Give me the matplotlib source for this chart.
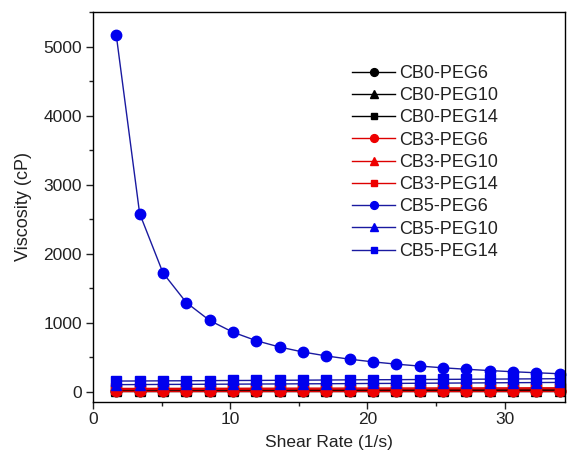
import matplotlib
matplotlib.use("Agg")
import matplotlib.pyplot as plt
from matplotlib.ticker import MultipleLocator

plt.rcParams['font.family'] = ['Liberation Sans', 'DejaVu Sans']

shear_rate = [1.7, 3.4, 5.1, 6.8, 8.5, 10.2, 11.9, 13.6, 15.3, 17.0,
              18.7, 20.4, 22.1, 23.8, 25.5, 27.2, 28.9, 30.6, 32.3, 34.0]

cb0_peg6 = [3, 3, 3, 3, 3, 3, 3, 3, 3, 3, 3, 3, 3, 3, 3, 3, 3, 3, 3, 3]
cb0_peg10 = [10, 10, 10, 10, 11, 11, 11, 11, 12, 12, 12, 12, 12, 13, 13, 13, 13, 13, 14, 14]
cb0_peg14 = [22, 22, 23, 23, 24, 24, 25, 25, 26, 26, 27, 27, 28, 28, 29, 29, 30, 30, 31, 31]
cb3_peg6 = [6, 6, 6, 6, 6, 6, 6, 6, 6, 6, 6, 6, 6, 6, 6, 6, 6, 6, 6, 6]
cb3_peg10 = [30, 30, 31, 31, 32, 32, 33, 33, 34, 34, 35, 35, 36, 36, 37, 37, 38, 38, 39, 39]
cb3_peg14 = [45, 45, 46, 46, 47, 47, 48, 48, 49, 49, 50, 50, 51, 51, 52, 52, 53, 53, 54, 54]
cb5_peg6 = [5160, 2580, 1720, 1290, 1030, 860, 737, 645, 573, 516,
            469, 430, 397, 369, 344, 323, 304, 287, 272, 258]
cb5_peg10 = [100, 101, 103, 104, 106, 107, 109, 110, 112, 113,
             115, 117, 118, 120, 122, 124, 126, 128, 130, 132]
cb5_peg14 = [152, 153, 155, 156, 158, 160, 161, 163, 165, 167,
             169, 171, 172, 174, 176, 178, 180, 182, 184, 186]

labels = ['CB0-PEG6', 'CB0-PEG10', 'CB0-PEG14',
          'CB3-PEG6', 'CB3-PEG10', 'CB3-PEG14',
          'CB5-PEG6', 'CB5-PEG10', 'CB5-PEG14']
series = [cb0_peg6, cb0_peg10, cb0_peg14,
          cb3_peg6, cb3_peg10, cb3_peg14,
          cb5_peg6, cb5_peg10, cb5_peg14]

mcolors = ['#000000'] * 3 + ['#ee0000'] * 3 + ['#0000ee'] * 3
lcolors = ['#000000'] * 3 + ['#dd0000'] * 3 + ['#1a1aa0'] * 3
markers = ['o', '^', 's'] * 3
msizes = [7.5, 7.5, 6.5] * 3

fig = plt.figure(figsize=(5.67, 4.63), dpi=100)
ax = fig.add_axes([0.164, 0.132, 0.8325, 0.842])

for y, lab, mc, lc, mk, ms in zip(series, labels, mcolors, lcolors, markers, msizes):
    ax.plot(shear_rate, y, color=lc, lw=1.0, marker=mk, markersize=ms,
            markerfacecolor=mc, markeredgecolor=mc, label=lab, clip_on=False)

ax.set_xlim(0, 34.4)
ax.set_ylim(-150, 5500)
ax.xaxis.set_major_locator(MultipleLocator(10))
ax.xaxis.set_minor_locator(MultipleLocator(5))
ax.yaxis.set_major_locator(MultipleLocator(1000))
ax.yaxis.set_minor_locator(MultipleLocator(500))
ax.tick_params(which='both', direction='out', labelsize=12.5, width=1, colors='#222222')
ax.tick_params(which='major', length=5)
ax.tick_params(which='minor', length=3)
ax.tick_params(axis='x', pad=2)
ax.tick_params(axis='y', pad=3)
for s in ax.spines.values():
    s.set_linewidth(1.0)

ax.set_xlabel('Shear Rate (1/s)', fontsize=12.5, labelpad=6, color='#222222')
ax.set_ylabel('Viscosity (cP)', fontsize=13, labelpad=8, color='#222222')

leg = ax.legend(loc='upper left', bbox_to_anchor=(352 / 567, 1 - 65 / 463),
                bbox_transform=fig.transFigure, frameon=False, fontsize=13,
                handlelength=2.4, handletextpad=0.2, labelspacing=0.29,
                markerscale=0.75, borderpad=0, borderaxespad=0)
for t in leg.get_texts():
    t.set_color('#222222')

fig.savefig('out.png', dpi=100)
